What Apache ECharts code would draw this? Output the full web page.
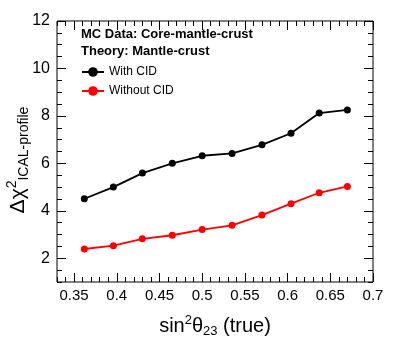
<!DOCTYPE html>
<html><head><meta charset="utf-8">
<script src="https://cdn.jsdelivr.net/npm/echarts@6/dist/echarts.min.js"></script>
<style>html,body{margin:0;padding:0;background:#fff}#c{width:407px;height:345px}</style>
</head><body><div id="c"></div>
<script>
var xValues = [0.362, 0.396, 0.430, 0.465, 0.500, 0.535, 0.570, 0.604, 0.637, 0.670];
var withCID = [4.51, 5.00, 5.59, 6.00, 6.32, 6.42, 6.78, 7.27, 8.12, 8.25];
var withoutCID = [2.39, 2.53, 2.82, 2.97, 3.21, 3.39, 3.82, 4.30, 4.76, 5.03];
var seriesNames = ['With CID', 'Without CID'];
var xTickLabels = [0.35, 0.4, 0.45, 0.5, 0.55, 0.6, 0.65, 0.7];
var yTickLabels = [2, 4, 6, 8, 10, 12];

var FONT = 'Liberation Sans';
var chart = echarts.init(document.getElementById('c'));
var box = {left: 57, right: 34, top: 21, bottom: 63};
var box0 = {left: 57, right: 34, top: 21, bottom: 63, show: true, borderColor: '#000', borderWidth: 1, backgroundColor: 'transparent'};

function xAx(g, pos, major, showLabel) {
  var a = {
    type: 'value', gridIndex: g, position: pos, min: 0.33, max: 0.7,
    axisLine: {show: false, onZero: false},
    axisTick: {show: true, inside: true, length: major ? 9 : 5, lineStyle: {color: '#000', width: 1}},
    axisLabel: showLabel ? {show: true, color: '#000', fontSize: 15, fontFamily: FONT, margin: 6} : {show: false},
    splitLine: {show: false}
  };
  if (major) { a.axisLabel.customValues = xTickLabels; a.axisTick.customValues = xTickLabels; }
  else { a.interval = 0.01; }
  return a;
}
function yAx(g, pos, major, showLabel) {
  var a = {
    type: 'value', gridIndex: g, position: pos, min: 1, max: 12,
    axisLine: {show: false, onZero: false},
    axisTick: {show: true, inside: true, length: major ? 9 : 5, lineStyle: {color: '#000', width: 1}},
    axisLabel: showLabel ? {show: true, color: '#000', fontSize: 16, fontFamily: FONT, margin: 7} : {show: false},
    splitLine: {show: false}
  };
  if (major) { a.axisLabel.customValues = yTickLabels; a.axisTick.customValues = yTickLabels; }
  else { a.interval = 0.5; }
  return a;
}

var option = {
  animation: false,
  grid: [box0, box, box, box],
  xAxis: [xAx(0, 'bottom', true, true), xAx(1, 'top', true, false), xAx(2, 'bottom', false, false), xAx(3, 'top', false, false)],
  yAxis: [yAx(0, 'left', true, true), yAx(1, 'right', true, false), yAx(2, 'left', false, false), yAx(3, 'right', false, false)],
  legend: {
    data: seriesNames, orient: 'vertical', left: 76, top: 61, itemWidth: 22, itemHeight: 12, itemGap: 7,
    textStyle: {fontSize: 12, fontFamily: FONT, color: '#000'}
  },
  graphic: [
    {type: 'text', left: 81, top: 28, style: {text: 'MC Data: Core-mantle-crust', font: 'bold 13px "Liberation Sans"', fill: '#000'}},
    {type: 'text', left: 81, top: 45, style: {text: 'Theory: Mantle-crust', font: 'bold 13px "Liberation Sans"', fill: '#000'}},
    {type: 'text', x: 215, y: 326, style: {
      text: '{n|sin}{sup|2}{n|θ}{sub|23}{n| (true)}', align: 'center', verticalAlign: 'middle',
      rich: {
        n: {fontSize: 20, fontFamily: FONT, fill: '#000', lineHeight: 24},
        sup: {fontSize: 13, fontFamily: FONT, fill: '#000', verticalAlign: 'top', lineHeight: 24, padding: [0, 0, 6, 0]},
        sub: {fontSize: 13, fontFamily: FONT, fill: '#000', verticalAlign: 'bottom', lineHeight: 24, padding: [8, 0, 0, 0]}
      }}},
    {type: 'text', x: 18, y: 160, rotation: Math.PI / 2, style: {
      text: '{n|Δχ}{sup|2}{sub|ICAL-profile}', align: 'center', verticalAlign: 'middle',
      rich: {
        n: {fontSize: 21, fontFamily: FONT, fill: '#000', lineHeight: 26},
        sup: {fontSize: 14, fontFamily: FONT, fill: '#000', verticalAlign: 'top', lineHeight: 26, padding: [0, 0, 6, 0]},
        sub: {fontSize: 14, fontFamily: FONT, fill: '#000', verticalAlign: 'bottom', lineHeight: 26, padding: [8, 0, 0, 0]}
      }}}
  ],
  series: [
    {name: seriesNames[0], type: 'line', xAxisIndex: 0, yAxisIndex: 0, data: xValues.map(function (x, k) { return [x, withCID[k]]; }),
      symbol: 'circle', symbolSize: 7, itemStyle: {color: '#000'}, lineStyle: {color: '#000', width: 1.8}},
    {name: seriesNames[1], type: 'line', xAxisIndex: 0, yAxisIndex: 0, data: xValues.map(function (x, k) { return [x, withoutCID[k]]; }),
      symbol: 'circle', symbolSize: 7, itemStyle: {color: '#ff0000'}, lineStyle: {color: '#ff0000', width: 1.8}}
  ]
};
chart.setOption(option);
</script></body></html>
